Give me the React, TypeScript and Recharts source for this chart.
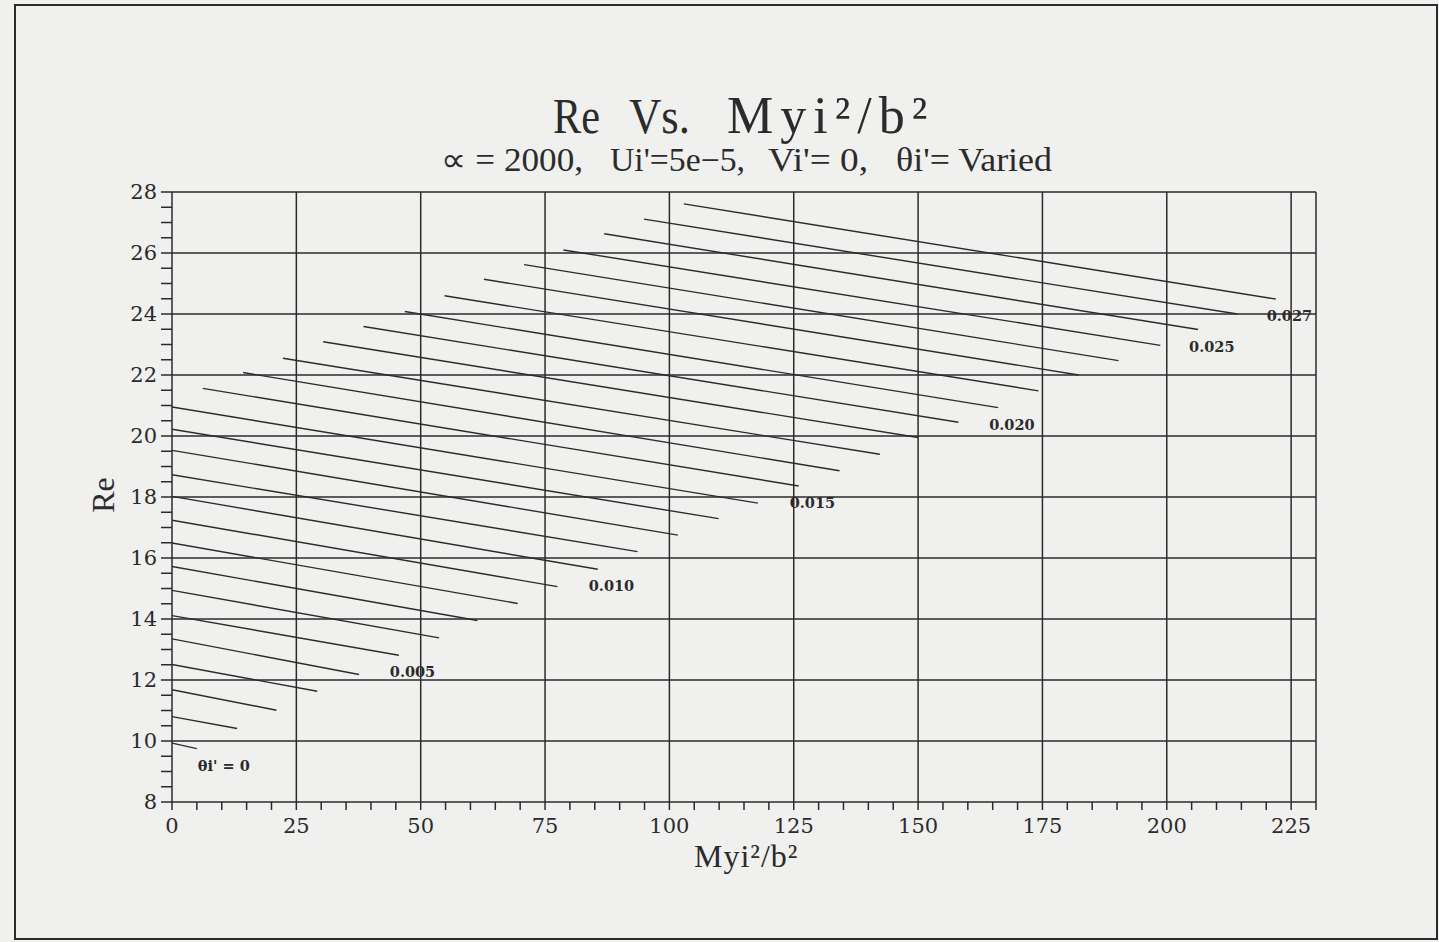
import { LineChart, Line, XAxis, YAxis, ReferenceLine } from "recharts";

// theta i' for each curve, 0 .. 0.027
const thetas = [
  0, 0.001, 0.002, 0.003, 0.004, 0.005, 0.006, 0.007, 0.008, 0.009, 0.01, 0.011, 0.012, 0.013,
  0.014, 0.015, 0.016, 0.017, 0.018, 0.019, 0.02, 0.021, 0.022, 0.023, 0.024, 0.025, 0.026, 0.027,
];

// each curve is a straight segment: start and end points
const startX = [
  0, 0, 0, 0, 0, 0, 0, 0, 0, 0, 0, 0, 0, 0, 0,
  6.2, 14.3, 22.3, 30.4, 38.5, 46.8, 54.8, 62.7, 70.8, 78.7, 86.9, 94.9, 102.9,
];
const startY = [
  9.93, 10.8, 11.68, 12.51, 13.35, 14.11, 14.94, 15.72, 16.49, 17.24, 18.02, 18.73, 19.53, 20.22,
  20.95, 21.56, 22.08, 22.55, 23.09, 23.59, 24.08, 24.6, 25.14, 25.62, 26.1, 26.63, 27.11, 27.61,
];
const endX = [
  5.0, 13.1, 21.0, 29.2, 37.6, 45.6, 53.7, 61.4, 69.5, 77.5, 85.6, 93.6, 101.7, 109.9,
  117.8, 126.0, 134.2, 142.3, 150.0, 158.1, 166.1, 174.2, 182.3, 190.3, 198.7, 206.3, 214.2, 221.9,
];
const endY = [
  9.75, 10.41, 11.01, 11.63, 12.18, 12.81, 13.38, 13.95, 14.51, 15.06, 15.63, 16.21, 16.75, 17.29,
  17.8, 18.36, 18.86, 19.4, 19.95, 20.45, 20.93, 21.48, 22.0, 22.47, 22.97, 23.49, 24.0, 24.49,
];

const curveLabels: Record<number, string> = {
  0: "θi' = 0",
  5: "0.005",
  10: "0.010",
  15: "0.015",
  20: "0.020",
  25: "0.025",
  27: "0.027",
};

const xMajor = [0, 25, 50, 75, 100, 125, 150, 175, 200, 225];
const xTicks = Array.from({ length: 47 }, (_, i) => i * 5);
const yTicks = Array.from({ length: 41 }, (_, i) => 8 + i * 0.5);
const xGrid = [25, 50, 75, 100, 125, 150, 175, 200, 225, 230];
const yGrid = [10, 12, 14, 16, 18, 20, 22, 24, 26, 28];

const INK = "#2b2b2b";
const BG = "#f0f0ee";
const SERIF = "Liberation Serif, Times New Roman, serif";
const TICK_FONT = "DejaVu Serif, serif";

const series = thetas.map((t, i) => ({
  theta: t,
  idx: i,
  points: [
    { x: startX[i], y: startY[i] },
    { x: endX[i], y: endY[i] },
  ],
}));

function makeLabel(idx: number) {
  const text = curveLabels[idx];
  return (props: any) => {
    if (!text || props.index !== 1) return <g />;
    const dx = idx === 0 ? 1 : -9;
    return (
      <text
        x={props.x + dx}
        y={props.y + 22}
        fontFamily={TICK_FONT}
        fontSize={14.5}
        fontWeight="bold"
        fill={INK}
      >
        {text}
      </text>
    );
  };
}

export default function App() {
  return (
    <div
      style={{
        position: "absolute",
        left: 0,
        top: 0,
        width: 1439,
        height: 942,
        background: BG,
        overflow: "hidden",
      }}
    >
      <div
        style={{
          position: "absolute",
          left: 14,
          top: 4,
          width: 1420,
          height: 932,
          border: `2px solid ${INK}`,
        }}
      />
      <div style={{ position: "absolute", left: 0, top: 0 }}>
        <LineChart width={1439} height={942} margin={{ top: 192, right: 123, bottom: 100, left: 112 }}>
          <XAxis
            type="number"
            dataKey="x"
            domain={[0, 230]}
            ticks={xTicks}
            interval={0}
            allowDataOverflow
            height={40}
            tickSize={8}
            tickMargin={8}
            stroke={INK}
            strokeWidth={1.5}
            tick={{ fill: INK, fontFamily: TICK_FONT, fontSize: 21 }}
            tickFormatter={(v: number) => (xMajor.includes(v) ? String(v) : "")}
          />
          <YAxis
            type="number"
            dataKey="y"
            domain={[8, 28]}
            ticks={yTicks}
            interval={0}
            allowDataOverflow
            width={60}
            tickSize={11}
            tickMargin={4}
            stroke={INK}
            strokeWidth={1.5}
            tick={{ fill: INK, fontFamily: TICK_FONT, fontSize: 21 }}
            tickFormatter={(v: number) => (v % 2 === 0 ? String(v) : "")}
          />
          {xGrid.map((v) => (
            <ReferenceLine key={`vx-${v}`} x={v} stroke={INK} strokeWidth={1.5} />
          ))}
          {yGrid.map((v) => (
            <ReferenceLine key={`hy-${v}`} y={v} stroke={INK} strokeWidth={1.5} />
          ))}
          {series.map((s) => (
            <Line
              key={s.idx}
              data={s.points}
              dataKey="y"
              type="linear"
              stroke={INK}
              strokeWidth={1.4}
              dot={false}
              isAnimationActive={false}
              label={makeLabel(s.idx)}
            />
          ))}
        </LineChart>
      </div>
      <svg
        width={1439}
        height={942}
        style={{ position: "absolute", left: 0, top: 0, pointerEvents: "none" }}
      >
        <g fontFamily={SERIF} fill={INK}>
          <text x={553} y={133} fontSize={50} textLength={47} lengthAdjust="spacingAndGlyphs">Re</text>
          <text x={629} y={133} fontSize={50} textLength={61} lengthAdjust="spacingAndGlyphs">Vs.</text>
          <text x={727} y={133} fontSize={52} letterSpacing={7}>Myi²/b²</text>

          <text x={441} y={171} fontSize={33} textLength={142} lengthAdjust="spacingAndGlyphs">∝ = 2000,</text>
          <text x={610} y={171} fontSize={33} textLength={135} lengthAdjust="spacingAndGlyphs">Ui'=5e−5,</text>
          <text x={768} y={171} fontSize={33} textLength={100} lengthAdjust="spacingAndGlyphs">Vi'= 0,</text>
          <text x={896} y={171} fontSize={33} textLength={156} lengthAdjust="spacingAndGlyphs">θi'= Varied</text>

          <text
            x={0}
            y={0}
            fontSize={32}
            textAnchor="middle"
            transform="translate(114 495) rotate(-90)"
          >
            Re
          </text>
          <text x={694} y={867} fontSize={32} letterSpacing={1}>Myi²/b²</text>
        </g>
      </svg>
    </div>
  );
}
